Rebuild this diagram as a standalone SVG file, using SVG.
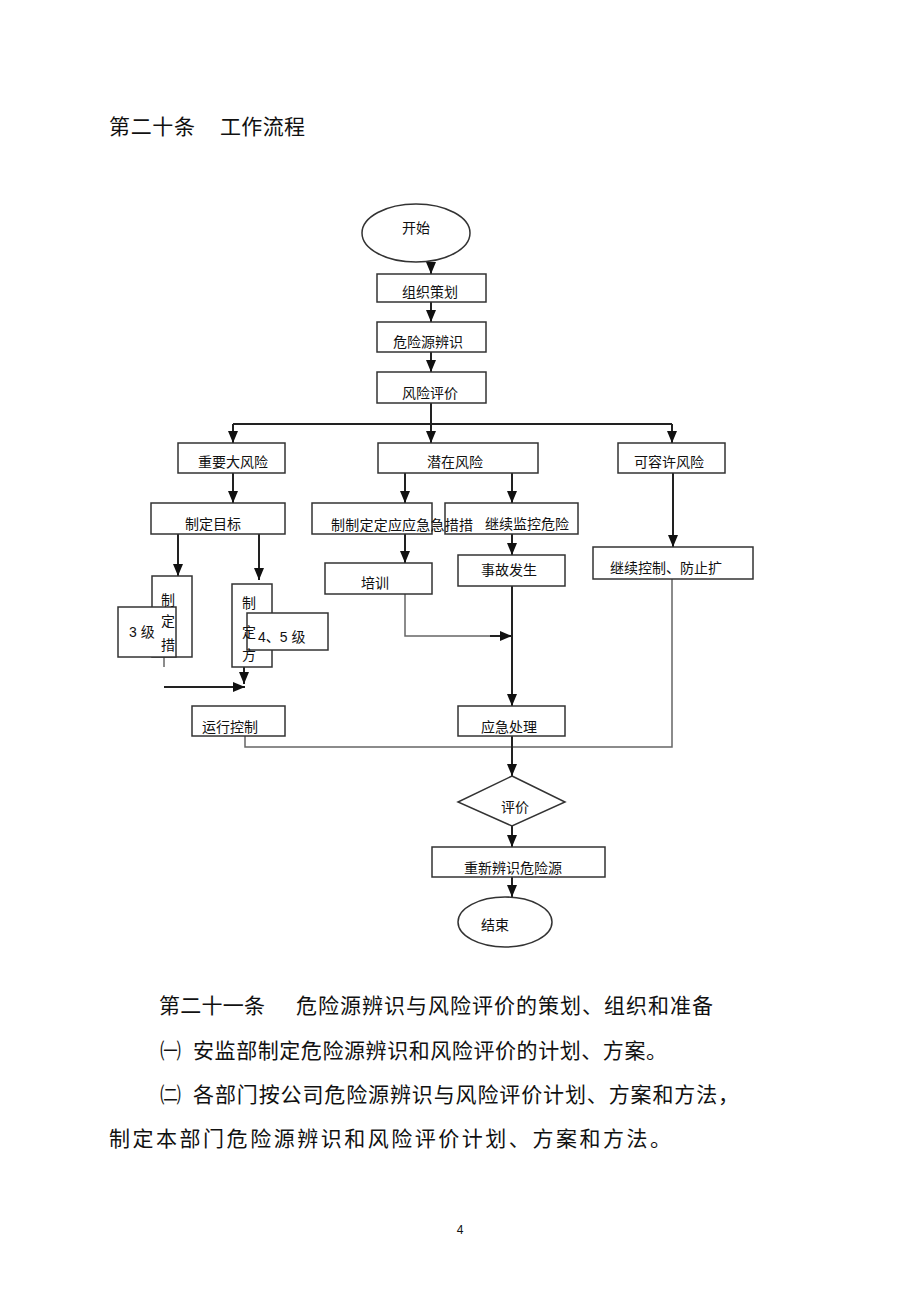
<svg xmlns="http://www.w3.org/2000/svg" width="920" height="1304" viewBox="0 0 920 1304">
<style>
.bg{fill:#fff}
.box{fill:#fff;stroke:#333;stroke-width:1.5}
.t{font-family:"Liberation Serif","Noto Sans CJK SC",serif;font-size:14px;fill:#111}
.ta{font-family:"Liberation Sans","Noto Sans CJK SC",sans-serif;font-size:14px;fill:#111}
.h{font-family:"Liberation Serif","Noto Sans CJK SC",serif;font-size:21px;fill:#111}
.c{text-anchor:middle}
.ln{fill:none;stroke:#222;stroke-width:2}
.lg{fill:none;stroke:#666;stroke-width:1.5}
</style>
<defs>
<marker id="ah" viewBox="0 0 12 10" markerWidth="12" markerHeight="10" refX="12" refY="5" orient="auto" markerUnits="userSpaceOnUse">
<path d="M0,0 L12,5 L0,10 z" fill="#111"/>
</marker>
</defs>
<rect class="bg" x="0" y="0" width="920" height="1304"/>

<g id="title">
<text class="h" x="109" y="134" textLength="86" lengthAdjust="spacing">第二十条</text>
<text class="h" x="220" y="134" textLength="85" lengthAdjust="spacing">工作流程</text>
</g>

<g id="connectors">
<path class="ln" d="M431,262 V274" marker-end="url(#ah)"/>
<path class="ln" d="M431,302 V322" marker-end="url(#ah)"/>
<path class="ln" d="M431,352 V372" marker-end="url(#ah)"/>
<path class="ln" d="M431,403 V443" marker-end="url(#ah)"/>
<path class="ln" d="M233,424 H672"/>
<path class="ln" d="M233,424 V443" marker-end="url(#ah)"/>
<path class="ln" d="M672,424 V443" marker-end="url(#ah)"/>
<path class="ln" d="M233,473 V503" marker-end="url(#ah)"/>
<path class="ln" d="M405,473 V503" marker-end="url(#ah)"/>
<path class="ln" d="M512,473 V503" marker-end="url(#ah)"/>
<path class="ln" d="M178,534 V576" marker-end="url(#ah)"/>
<path class="ln" d="M259,534 V580" marker-end="url(#ah)"/>
<path class="ln" d="M405,534 V563" marker-end="url(#ah)"/>
<path class="ln" d="M512,534 V555" marker-end="url(#ah)"/>
<path class="ln" d="M673,473 V547" marker-end="url(#ah)"/>
<path class="lg" d="M405,594 V636 H500"/>
<path class="ln" d="M490,636 H512" marker-end="url(#ah)"/>
<path class="ln" d="M512,586 V706" marker-end="url(#ah)"/>
<path class="lg" d="M164,657 V667"/>
<path class="ln" d="M164,687 H245" marker-end="url(#ah)"/>
<path class="ln" d="M244,667 V684" marker-end="url(#ah)"/>
<path class="lg" d="M245,736 V747 H672 V579"/>
<path class="ln" d="M512,736 V776" marker-end="url(#ah)"/>
<path class="ln" d="M512,826 V847" marker-end="url(#ah)"/>
<path class="ln" d="M512,877 V897" marker-end="url(#ah)"/>
</g>

<g id="start">
<ellipse class="box" cx="416" cy="233" rx="54" ry="29"/>
<text class="t c" x="416" y="233">开始</text>
</g>
<g id="plan">
<rect class="box" x="377" y="274" width="109" height="28"/>
<text class="t c" x="430" y="297">组织策划</text>
</g>
<g id="identify">
<rect class="box" x="377" y="322" width="109" height="30"/>
<text class="t c" x="428" y="347">危险源辨识</text>
</g>
<g id="evaluate">
<rect class="box" x="377" y="372" width="109" height="31"/>
<text class="t c" x="430" y="398">风险评价</text>
</g>
<g id="major">
<rect class="box" x="178" y="443" width="107" height="30"/>
<text class="t c" x="233" y="467">重要大风险</text>
</g>
<g id="potential">
<rect class="box" x="378" y="443" width="160" height="30"/>
<text class="t c" x="455" y="467">潜在风险</text>
</g>
<g id="tolerable">
<rect class="box" x="618" y="443" width="107" height="30"/>
<text class="t c" x="669" y="467">可容许风险</text>
</g>
<g id="target">
<rect class="box" x="151" y="503" width="134" height="31"/>
<text class="t" x="185" y="529">制定目标</text>
</g>
<g id="monitor">
<rect class="box" x="445" y="503" width="133" height="31"/>
<text class="t" x="485" y="529">继续监控危险</text>
</g>
<g id="emergency">
<rect class="box" x="312" y="503" width="120" height="31"/>
<text class="t" x="331" y="530" textLength="142" lengthAdjust="spacing">制制定定应应急急措措</text>
</g>
<g id="training">
<rect class="box" x="325" y="563" width="107" height="31"/>
<text class="t c" x="375" y="588">培训</text>
</g>
<g id="accident">
<rect class="box" x="458" y="555" width="107" height="31"/>
<text class="t c" x="509" y="575">事故发生</text>
</g>
<g id="continue">
<rect class="box" x="593" y="547" width="160" height="32"/>
<text class="t" x="610" y="573">继续控制、防止扩</text>
</g>
<g id="measures">
<rect class="box" x="152" y="576" width="40" height="81"/>
<rect class="box" x="118" y="607" width="58" height="50"/>
<text class="ta" x="129" y="637">3 级</text>
<text class="t c" x="168" y="605">制</text>
<text class="t c" x="168" y="626">定</text>
<text class="t c" x="168" y="650">措</text>
</g>
<g id="plan45">
<rect class="box" x="232" y="584" width="40" height="83"/>
<rect class="box" x="247" y="613" width="81" height="37"/>
<text class="ta" x="258" y="642">4、5 级</text>
<text class="t c" x="249" y="608">制</text>
<text class="t c" x="249" y="637">定</text>
<text class="t c" x="249" y="660">方</text>
</g>
<g id="operate">
<rect class="box" x="192" y="706" width="93" height="30"/>
<text class="t" x="202" y="732">运行控制</text>
</g>
<g id="response">
<rect class="box" x="458" y="706" width="107" height="30"/>
<text class="t c" x="509" y="732">应急处理</text>
</g>
<g id="review">
<polygon class="box" points="512,776 565,802 512,826 458,802"/>
<text class="t c" x="515" y="812">评价</text>
</g>
<g id="reidentify">
<rect class="box" x="432" y="847" width="173" height="30"/>
<text class="t c" x="513" y="873">重新辨识危险源</text>
</g>
<g id="end">
<ellipse class="box" cx="505" cy="922" rx="47" ry="25"/>
<text class="t c" x="495" y="930">结束</text>
</g>

<g id="body">
<text class="h" x="159" y="1013" textLength="106" lengthAdjust="spacing">第二十一条</text>
<text class="h" x="296" y="1013" textLength="417" lengthAdjust="spacing">危险源辨识与风险评价的策划、组织和准备</text>
<text class="h" x="160" y="1058">㈠</text>
<text class="h" x="193" y="1058" textLength="474" lengthAdjust="spacing">安监部制定危险源辨识和风险评价的计划、方案。</text>
<text class="h" x="160" y="1102">㈡</text>
<text class="h" x="193" y="1102" textLength="546" lengthAdjust="spacing">各部门按公司危险源辨识与风险评价计划、方案和方法，</text>
<text class="h" x="109" y="1146" textLength="562" lengthAdjust="spacing">制定本部门危险源辨识和风险评价计划、方案和方法。</text>
<text x="460" y="1234" style="font-family:'Liberation Sans',sans-serif;font-size:12px;text-anchor:middle;fill:#111">4</text>
</g>
</svg>
